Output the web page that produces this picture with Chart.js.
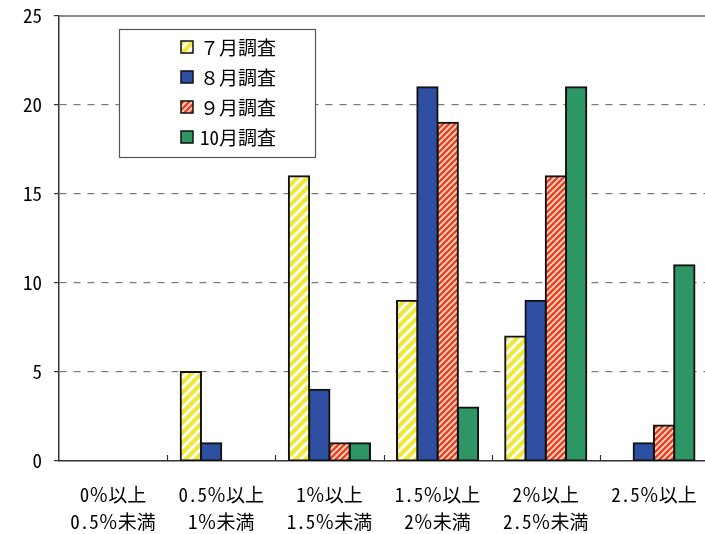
<!DOCTYPE html>
<html>
<head>
<meta charset="utf-8">
<script src="https://cdn.jsdelivr.net/npm/chart.js@4/dist/chart.umd.min.js"></script>
<style>
html,body{margin:0;padding:0;background:#fff;overflow:hidden;}
#wrap{width:708px;height:534px;position:relative;}
canvas{display:block;}
</style>
</head>
<body>
<div id="wrap"><canvas id="c" width="708" height="534"></canvas></div>
<script>
const categories = [
  ['0％以上', '0.5％未満'],
  ['0.5％以上', '1％未満'],
  ['1％以上', '1.5％未満'],
  ['1.5％以上', '2％未満'],
  ['2％以上', '2.5％未満'],
  ['2.5％以上', '']
];
const seriesLabels = ['７月調査', '８月調査', '９月調査', '10月調査'];
const july = [0, 5, 16, 9, 7, 0];
const august = [0, 1, 4, 21, 9, 1];
const september = [0, 0, 1, 19, 16, 2];
const october = [0, 0, 1, 3, 21, 11];
const yTicks = [0, 5, 10, 15, 20, 25];

const FONT = '"Noto Sans Mono CJK JP", "Noto Sans CJK JP", sans-serif';

function stripePattern(bg, fg, size, width) {
  const c = document.createElement('canvas');
  c.width = size; c.height = size;
  const x = c.getContext('2d');
  x.fillStyle = bg; x.fillRect(0, 0, size, size);
  x.strokeStyle = fg; x.lineWidth = width;
  x.beginPath();
  for (let k = -1; k <= 1; k++) {
    x.moveTo(k * size - 1, size + 1);
    x.lineTo(k * size + size + 1, -1);
  }
  x.stroke();
  return x.createPattern(c, 'repeat');
}
const yellowPat = stripePattern('#EEE83A', '#FFFFFF', 10, 2.8);
const redPat = stripePattern('#F03A38', '#FFE2A8', 6, 1.8);
const fills = [yellowPat, '#2F4FA2', redPat, '#2E9664'];

const legendBox = {
  id: 'legendBox',
  afterDraw(chart) {
    const c = chart.ctx;
    c.save();
    const L = 119, T = 29, W = 196, H = 128;
    c.fillStyle = '#fff';
    c.fillRect(L, T, W, H);
    c.strokeStyle = '#555';
    c.lineWidth = 1.2;
    c.strokeRect(L + 0.5, T + 0.5, W, H);
    c.font = '19px ' + FONT;
    c.textBaseline = 'middle';
    chart.data.datasets.forEach((ds, i) => {
      const cy = T + 18 + i * 30;
      c.fillStyle = ds.backgroundColor;
      c.fillRect(181, cy - 6, 12, 12);
      c.strokeStyle = '#111';
      c.lineWidth = 1.5;
      c.strokeRect(181, cy - 6, 12, 12);
      c.fillStyle = '#000';
      c.fillText(ds.label, 200, cy + 1);
    });
    c.restore();
  }
};

const frame = {
  id: 'frame',
  afterDatasetsDraw(chart) {
    const c = chart.ctx, a = chart.chartArea, xs = chart.scales.x;
    c.save();
    c.strokeStyle = '#8a8a8a';
    c.lineWidth = 2;
    c.beginPath();
    c.moveTo(a.left, a.top);
    c.lineTo(a.right + 5, a.top);
    c.stroke();
    c.strokeStyle = '#333';
    c.lineWidth = 1.2;
    c.beginPath();
    const n = chart.data.labels.length;
    const step = xs.getPixelForValue(1) - xs.getPixelForValue(0);
    for (let i = 1; i <= n; i++) {
      const xx = xs.getPixelForValue(i - 1) + step / 2;
      c.moveTo(Math.round(xx) + 0.5, a.bottom);
      c.lineTo(Math.round(xx) + 0.5, a.bottom - 6);
    }
    c.stroke();
    c.restore();
  }
};

new Chart(document.getElementById('c'), {
  type: 'bar',
  data: {
    labels: categories,
    datasets: [
      { label: seriesLabels[0], data: july, backgroundColor: fills[0] },
      { label: seriesLabels[1], data: august, backgroundColor: fills[1] },
      { label: seriesLabels[2], data: september, backgroundColor: fills[2] },
      { label: seriesLabels[3], data: october, backgroundColor: fills[3] }
    ].map(d => Object.assign(d, {
      borderColor: '#111', borderWidth: 2, borderSkipped: false, inflateAmount: 1,
      categoryPercentage: 0.75, barPercentage: 1.0
    }))
  },
  options: {
    responsive: false,
    animation: false,
    devicePixelRatio: 1,
    layout: { padding: { top: 16, right: 0, left: 0, bottom: 0 } },
    plugins: { legend: { display: false }, tooltip: { enabled: false } },
    scales: {
      x: {
        offset: true,
        grid: { display: false },
        border: { display: true, color: '#333', width: 1.5 },
        ticks: {
          color: '#000',
          font: { family: FONT, size: 19, lineHeight: 1.42 },
          padding: 12,
          maxRotation: 0, autoSkip: false
        },
        afterFit(s) { s.height = 73; s.paddingLeft = 0; s.paddingRight = 0; }
      },
      y: {
        min: 0, max: 25,
        afterBuildTicks(s) { s.ticks = yTicks.map(v => ({ value: v })); },
        grid: {
          color: (ctx) => (ctx.tick && (ctx.tick.value === 0 || ctx.tick.value === 25)) ? 'rgba(0,0,0,0)' : '#7a7a7a',
          lineWidth: 1.2,
          tickColor: '#333',
          tickLength: 5,
          tickBorderDash: [],
          drawTicks: true
        },
        border: { display: true, color: '#333', width: 1.5, dash: [7, 7] },
        ticks: {
          color: '#000',
          font: { family: FONT, size: 19 },
          padding: 12
        },
        afterFit(s) { s.width = 59; s.paddingTop = 0; s.paddingBottom = 0; }
      }
    }
  },
  plugins: [legendBox, frame]
});
</script>
</body>
</html>
